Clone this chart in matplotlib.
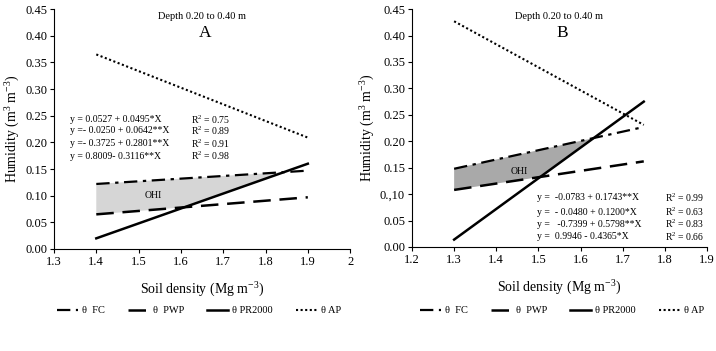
import numpy as np
import matplotlib
matplotlib.use('Agg')
import matplotlib.pyplot as plt
from matplotlib.lines import Line2D

plt.rcParams['font.family'] = ['Liberation Serif', 'DejaVu Serif']
plt.rcParams['mathtext.fontset'] = 'custom'
plt.rcParams['mathtext.rm'] = 'Liberation Serif'
plt.rcParams['mathtext.it'] = 'Liberation Serif:italic'
plt.rcParams['mathtext.default'] = 'rm'

# Panel A: line end points
A_X = [1.4, 1.9]
A_FC = [0.122, 0.147]
A_PWP = [0.065, 0.097]
A_PR = [0.020, 0.160]
A_AP = [0.365, 0.209]
A_XTICKS = [1.3, 1.4, 1.5, 1.6, 1.7, 1.8, 1.9, 2.0]
A_XTICKLABELS = ['1.3', '1.4', '1.5', '1.6', '1.7', '1.8', '1.9', '2']
A_YTICKLABELS = ['0.00', '0.05', '0.10', '0.15', '0.20', '0.25', '0.30', '0.35', '0.40', '0.45']
A_EQS = ['y = 0.0527 + 0.0495*X', 'y =- 0.0250 + 0.0642**X',
         'y =- 0.3725 + 0.2801**X', 'y = 0.8009- 0.3116**X']
A_R2 = ['R$^2$ = 0.75', 'R$^2$ = 0.89', 'R$^2$ = 0.91', 'R$^2$ = 0.98']

# Panel B
B_X = [1.3, 1.75]
B_FC = [0.148, 0.227]
B_PWP = [0.108, 0.162]
B_PR = [0.014, 0.275]
B_AP = [0.427, 0.231]
B_XTICKS = [1.2, 1.3, 1.4, 1.5, 1.6, 1.7, 1.8, 1.9]
B_XTICKLABELS = ['1.2', '1.3', '1.4', '1.5', '1.6', '1.7', '1.8', '1.9']
B_YTICKLABELS = ['0.00', '0.05', '0.,10', '0.15', '0.20', '0.25', '0.30', '0.35', '0.40', '0.45']
B_EQS = ['y =  -0.0783 + 0.1743**X', 'y =  - 0.0480 + 0.1200*X',
         'y =   -0.7399 + 0.5798**X', 'y =  0.9946 - 0.4365*X']
B_R2 = ['R$^2$ = 0.99', 'R$^2$ = 0.63', 'R$^2$ = 0.83', 'R$^2$ = 0.66']

YTICKS = [0.0, 0.05, 0.10, 0.15, 0.20, 0.25, 0.30, 0.35, 0.40, 0.45]

STYLE = dict(color='k')
FC_STYLE = dict(lw=1.6, dashes=(6, 2.5, 1.5, 2.5), **STYLE)
PWP_STYLE = dict(lw=1.8, dashes=(7, 3.5), **STYLE)
PR_STYLE = dict(lw=1.8, ls='-', **STYLE)
AP_STYLE = dict(lw=1.5, dashes=(1, 1.2), **STYLE)


def panel(fig, rect, x, fc, pwp, pr, ap, xticks, xticklabels, yticklabels,
          xlim, fill_color, letter, ohi_xy, eqs, r2, eq_x, r2_x, eq_y):
    ax = fig.add_axes(rect)

    # OHI area between upper (FC) and lower (max of PWP, PR) limits
    xs = np.linspace(x[0], x[1], 400)
    upper = np.minimum(np.interp(xs, x, fc), np.interp(xs, x, ap))
    lower = np.maximum(np.interp(xs, x, pwp), np.interp(xs, x, pr))
    ax.fill_between(xs, lower, upper, where=upper > lower,
                    facecolor=fill_color, edgecolor='none', zorder=1)

    ax.plot(x, fc, zorder=3, **FC_STYLE)
    ax.plot(x, pwp, zorder=3, **PWP_STYLE)
    ax.plot(x, pr, zorder=3, **PR_STYLE)
    ax.plot(x, ap, zorder=3, **AP_STYLE)

    ax.set_xlim(*xlim)
    ax.set_ylim(0, 0.45)
    ax.set_xticks(xticks)
    ax.set_xticklabels(xticklabels)
    ax.set_yticks(YTICKS)
    ax.set_yticklabels(yticklabels)
    for s in ['top', 'right']:
        ax.spines[s].set_visible(False)
    ax.tick_params(direction='out', length=3, width=0.8, labelsize=9, pad=2)

    ax.set_xlabel('Soil density (Mg m$^{-3}$)', fontsize=10, labelpad=9)
    ax.set_ylabel('Humidity (m$^{3}$ m$^{-3}$)', fontsize=10, labelpad=2)

    ax.text(0.5, 0.99, 'Depth 0.20 to 0.40 m', transform=ax.transAxes,
            ha='center', va='top', fontsize=7.5)
    ax.text(0.51, 0.935, letter, transform=ax.transAxes,
            ha='center', va='top', fontsize=12.5)
    ax.text(ohi_xy[0], ohi_xy[1], 'OHI', ha='center', va='center', fontsize=7, zorder=4)

    for i in range(len(eqs)):
        ax.text(eq_x, eq_y[i], eqs[i], fontsize=7, va='center')
        ax.text(r2_x, eq_y[i], r2[i], fontsize=7, va='center')
    return ax


fig = plt.figure(figsize=(7.16, 3.51), dpi=100)

panel(fig, [0.0754, 0.2906, 0.4136, 0.6834], A_X, A_FC, A_PWP, A_PR, A_AP,
      A_XTICKS, A_XTICKLABELS, A_YTICKLABELS, (1.3, 2.0), '#d6d6d6', 'A',
      (1.535, 0.101), A_EQS, A_R2, 1.337, 1.625, [0.243, 0.222, 0.198, 0.174])

panel(fig, [0.5754, 0.2963, 0.4120, 0.6777], B_X, B_FC, B_PWP, B_PR, B_AP,
      B_XTICKS, B_XTICKLABELS, B_YTICKLABELS, (1.2, 1.9), '#a9a9a9', 'B',
      (1.455, 0.142), B_EQS, B_R2, 1.497, 1.80, [0.094, 0.066, 0.043, 0.019])

handles = [Line2D([], [], **FC_STYLE), Line2D([], [], **PWP_STYLE),
           Line2D([], [], **PR_STYLE), Line2D([], [], **AP_STYLE)]
labels = ['\u03b8  FC', '\u03b8  PWP', '\u03b8 PR2000', '\u03b8 AP']
for x0 in [0.07, 0.577]:
    fig.legend(handles, labels, loc='center left', bbox_to_anchor=(x0, 0.115),
               ncol=4, frameon=False, fontsize=7.5, handlelength=2.0,
               columnspacing=2.2, handletextpad=0.4, borderpad=0.2)

fig.savefig('out.png', dpi=100)
